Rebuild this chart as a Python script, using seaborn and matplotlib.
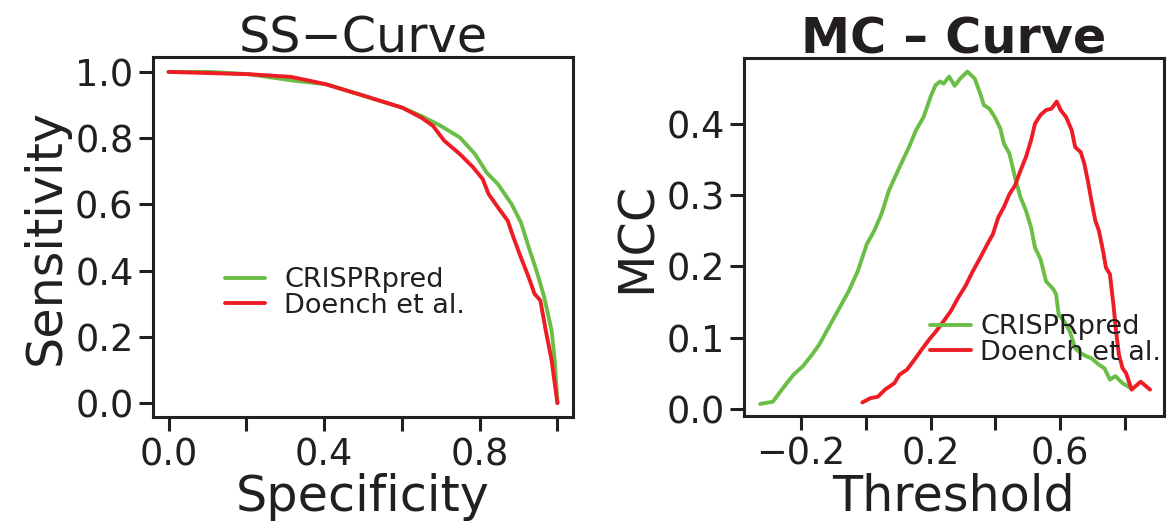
import numpy as np
import pandas as pd
import matplotlib
matplotlib.use("Agg")
import matplotlib.pyplot as plt
import seaborn as sns
from matplotlib.lines import Line2D

# ---------------- data ----------------
series_names = ["CRISPRpred", "Doench et al."]
series_colors = ["#6BBE45", "#EE1C25"]

ss_spec_crispr = [0.0, 0.108, 0.207, 0.325, 0.404, 0.502, 0.601, 0.650, 0.700, 0.749,
                  0.788, 0.818, 0.847, 0.882, 0.906, 0.926, 0.946, 0.966, 0.985, 0.993, 1.0]
ss_sens_crispr = [1.0, 1.0, 0.993, 0.973, 0.963, 0.928, 0.892, 0.867, 0.837, 0.802,
                  0.752, 0.696, 0.661, 0.601, 0.546, 0.471, 0.400, 0.320, 0.219, 0.129, 0.0]

ss_spec_doench = [0.0, 0.207, 0.315, 0.404, 0.502, 0.601, 0.650, 0.680, 0.709, 0.749,
                  0.783, 0.808, 0.823, 0.847, 0.872, 0.887, 0.906, 0.926, 0.941, 0.956,
                  0.970, 0.985, 1.0]
ss_sens_doench = [1.0, 0.993, 0.985, 0.963, 0.928, 0.892, 0.862, 0.837, 0.792, 0.752,
                  0.712, 0.676, 0.631, 0.591, 0.551, 0.500, 0.440, 0.380, 0.330, 0.310,
                  0.219, 0.129, 0.0]

mc_thr_crispr = [-0.326, -0.287, -0.256, -0.223, -0.194, -0.166, -0.144, -0.115, -0.087,
                 -0.053, -0.025, 0.003, 0.026, 0.048, 0.071, 0.104, 0.133, 0.155, 0.178,
                 0.200, 0.215, 0.229, 0.240, 0.257, 0.274, 0.291, 0.313, 0.336, 0.353,
                 0.364, 0.381, 0.398, 0.415, 0.426, 0.443, 0.460, 0.477, 0.494, 0.510,
                 0.522, 0.539, 0.556, 0.578, 0.587, 0.595, 0.612, 0.629, 0.646, 0.663,
                 0.680, 0.696, 0.719, 0.736, 0.753, 0.770, 0.792, 0.822]
mc_mcc_crispr = [0.007, 0.010, 0.029, 0.048, 0.060, 0.076, 0.090, 0.114, 0.137,
                 0.165, 0.193, 0.231, 0.250, 0.273, 0.306, 0.339, 0.367, 0.391, 0.409,
                 0.438, 0.454, 0.459, 0.456, 0.466, 0.453, 0.463, 0.473, 0.463, 0.442,
                 0.426, 0.421, 0.409, 0.393, 0.372, 0.358, 0.325, 0.297, 0.278, 0.254,
                 0.226, 0.210, 0.179, 0.168, 0.161, 0.132, 0.123, 0.109, 0.085, 0.078,
                 0.074, 0.071, 0.062, 0.057, 0.041, 0.046, 0.036, 0.028]

mc_thr_doench = [-0.011, 0.014, 0.037, 0.059, 0.088, 0.104, 0.127, 0.150, 0.172, 0.195,
                 0.217, 0.240, 0.262, 0.285, 0.307, 0.330, 0.353, 0.375, 0.392, 0.409,
                 0.426, 0.443, 0.460, 0.477, 0.494, 0.510, 0.522, 0.539, 0.556, 0.573,
                 0.589, 0.601, 0.618, 0.635, 0.646, 0.663, 0.674, 0.685, 0.696, 0.708,
                 0.719, 0.730, 0.741, 0.753, 0.764, 0.772, 0.781, 0.792, 0.803, 0.820,
                 0.848, 0.877]
mc_mcc_doench = [0.009, 0.015, 0.017, 0.027, 0.036, 0.048, 0.055, 0.069, 0.083, 0.097,
                 0.109, 0.123, 0.137, 0.156, 0.172, 0.193, 0.212, 0.231, 0.245, 0.269,
                 0.283, 0.301, 0.313, 0.334, 0.353, 0.377, 0.400, 0.412, 0.419, 0.421,
                 0.431, 0.419, 0.409, 0.391, 0.367, 0.360, 0.344, 0.320, 0.292, 0.264,
                 0.250, 0.226, 0.198, 0.189, 0.146, 0.109, 0.076, 0.057, 0.050, 0.027,
                 0.038, 0.027]

ss_xticks = [0.0, 0.2, 0.4, 0.6, 0.8, 1.0]
ss_xticklabels = ["0.0", "", "0.4", "", "0.8", ""]
ss_yticks = [0.0, 0.2, 0.4, 0.6, 0.8, 1.0]
ss_yticklabels = ["0.0", "0.2", "0.4", "0.6", "0.8", "1.0"]
mc_xticks = [-0.2, 0.0, 0.2, 0.4, 0.6, 0.8]
mc_xticklabels = ["\u22120.2", "", "0.2", "", "0.6", ""]
mc_yticks = [0.0, 0.1, 0.2, 0.3, 0.4]
mc_yticklabels = ["0.0", "0.1", "0.2", "0.3", "0.4"]

# ---------------- tables ----------------
ss_df = pd.concat([
    pd.DataFrame({"x": ss_spec_crispr, "y": ss_sens_crispr, "method": series_names[0]}),
    pd.DataFrame({"x": ss_spec_doench, "y": ss_sens_doench, "method": series_names[1]}),
], ignore_index=True)
mc_df = pd.concat([
    pd.DataFrame({"x": mc_thr_crispr, "y": mc_mcc_crispr, "method": series_names[0]}),
    pd.DataFrame({"x": mc_thr_doench, "y": mc_mcc_doench, "method": series_names[1]}),
], ignore_index=True)

# ---------------- style ----------------
sns.set_theme(style="white")
ink = "#231F20"
plt.rcParams["font.family"] = ["DejaVu Sans"]
plt.rcParams["text.color"] = ink
plt.rcParams["axes.labelcolor"] = ink
plt.rcParams["xtick.color"] = ink
plt.rcParams["ytick.color"] = ink
plt.rcParams["axes.edgecolor"] = ink

W, H = 1173, 524
fig = plt.figure(figsize=(W / 100, H / 100), dpi=100)
ax1 = fig.add_axes([153 / W, 1 - 417 / H, 420 / W, 360 / H])
ax2 = fig.add_axes([744 / W, 1 - 416 / H, 420 / W, 358 / H])

palette = dict(zip(series_names, series_colors))
lw = 2.8

sns.lineplot(data=ss_df, x="x", y="y", hue="method", palette=palette, ax=ax1,
             estimator=None, sort=False, linewidth=lw, legend=False)
sns.lineplot(data=mc_df, x="x", y="y", hue="method", palette=palette, ax=ax2,
             estimator=None, sort=False, linewidth=lw, legend=False)

tick_fs = 26.5
label_fs = 35.5
title_fs = 35.5

def style_axes(ax, xlim, ylim, xt, xtl, yt, ytl):
    ax.set_xlim(*xlim)
    ax.set_ylim(*ylim)
    ax.set_xticks(xt)
    ax.set_xticklabels(xtl)
    ax.set_yticks(yt)
    ax.set_yticklabels(ytl)
    ax.tick_params(axis="both", direction="out", length=10, width=2.2,
                   labelsize=tick_fs, pad=4, bottom=True, left=True)
    for s in ax.spines.values():
        s.set_linewidth(2.2)
        s.set_color(ink)

style_axes(ax1, (-0.04, 1.04), (-0.042, 1.045), ss_xticks, ss_xticklabels,
           ss_yticks, ss_yticklabels)
style_axes(ax2, (-0.376, 0.920), (-0.010, 0.492), mc_xticks, mc_xticklabels,
           mc_yticks, mc_yticklabels)

ax1.set_xlabel("Specificity", fontsize=label_fs, labelpad=0)
ax1.set_ylabel("Sensitivity", fontsize=label_fs, labelpad=4)
ax1.set_title("SS\u2212Curve", fontsize=title_fs, pad=3)
ax2.set_xlabel("Threshold", fontsize=label_fs, labelpad=0)
ax2.set_ylabel("MCC", fontsize=label_fs, labelpad=4)
ax2.set_title("MC \u2013 Curve", fontsize=title_fs, fontweight="bold", pad=3)

def add_legend(ax, anchor, textpad):
    handles = [Line2D([0], [0], color=c, lw=lw) for c in series_colors]
    leg = ax.legend(handles, series_names, loc="center left", bbox_to_anchor=anchor,
                    frameon=False, fontsize=19.5, handlelength=1.5, handletextpad=textpad,
                    labelspacing=-0.02, borderpad=0, borderaxespad=0)
    for t in leg.get_texts():
        t.set_color(ink)

add_legend(ax1, (0.171, 0.344), 0.7)
add_legend(ax2, (0.443, 0.212), 0.35)

fig.savefig("out.png", dpi=100)
